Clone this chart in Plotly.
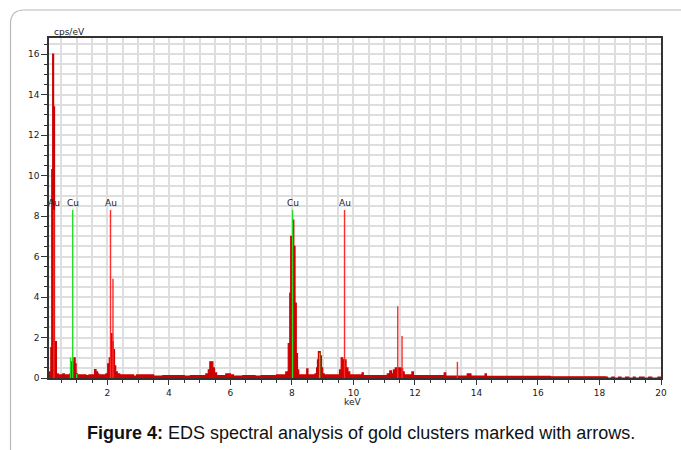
import plotly.graph_objects as go

# EDS spectrum: channel left edges (keV) and intensity (cps/eV), drawn as a step histogram
energy_kev = [0.10, 0.16, 0.19, 0.22, 0.25, 0.28, 0.34, 0.40, 0.55, 0.60, 0.78, 0.82, 0.84,
              0.87, 0.91, 0.95, 0.98, 1.02, 1.30, 1.40, 1.58, 1.63, 1.68, 1.72, 1.95, 2.01,
              2.06, 2.11, 2.15, 2.19, 2.23, 2.27, 2.32, 2.40, 2.85, 2.95, 3.50, 3.80, 4.50,
              4.70, 5.20, 5.28, 5.33, 5.43, 5.48, 5.55, 5.85, 6.00, 6.10, 6.40, 6.80, 7.00,
              7.50, 7.80, 7.88, 7.93, 7.96, 8.02, 8.06, 8.10, 8.14, 8.18, 8.22, 8.45, 8.48,
              8.52, 8.75, 8.80, 8.83, 8.86, 8.92, 8.96, 9.00, 9.05, 9.50, 9.55, 9.60, 9.65,
              9.70, 9.76, 9.82, 9.88, 10.28, 10.32, 11.10, 11.18, 11.24, 11.30, 11.36, 11.48,
              11.54, 11.60, 11.65, 11.90, 11.95, 12.95, 13.00, 13.70, 13.82, 14.28, 14.32,
              16.40, 18.20, 18.26, 18.40, 18.48, 18.62, 18.70, 18.85, 18.95, 19.10, 19.16,
              19.30, 19.45, 19.60, 19.70, 19.90, 20.00]
cps = [0.30, 1.50, 10.30, 16.00, 13.40, 1.80, 0.20, 0.15, 0.20, 0.15, 0.20, 0.50, 0.80,
       0.30, 1.00, 0.70, 0.20, 0.15, 0.12, 0.15, 0.42, 0.30, 0.20, 0.15, 0.20, 0.70,
       1.00, 2.20, 1.80, 1.40, 0.60, 0.30, 0.20, 0.15, 0.10, 0.15, 0.10, 0.12, 0.10,
       0.12, 0.20, 0.40, 0.80, 0.50, 0.25, 0.12, 0.20, 0.15, 0.10, 0.12, 0.10, 0.12,
       0.15, 0.30, 1.70, 4.20, 7.00, 7.80, 6.50, 3.70, 1.20, 0.40, 0.15, 0.15, 0.45,
       0.15, 0.20, 0.50, 0.90, 1.30, 1.10, 0.50, 0.20, 0.15, 0.15, 0.40, 1.00, 0.90,
       0.90, 0.50, 0.30, 0.15, 0.26, 0.12, 0.20, 0.35, 0.20, 0.40, 0.50, 0.50,
       0.45, 0.30, 0.15, 0.30, 0.12, 0.25, 0.10, 0.20, 0.10, 0.20, 0.08,
       0.06, 0.05, 0.00, 0.05, 0.00, 0.05, 0.00, 0.05, 0.00, 0.05, 0.00,
       0.05, 0.00, 0.05, 0.00, 0.05, 0.05]

# Element line markers (position keV, relative height cps/eV)
au_lines_kev = [0.26, 2.10, 2.18, 9.71, 11.44, 11.58, 13.38]
au_lines_h = [8.3, 8.3, 4.9, 8.3, 3.55, 2.08, 0.8]
cu_lines_kev = [0.80, 0.87, 1.00, 8.02, 8.90]
cu_lines_h = [1.0, 8.3, 0.2, 8.3, 1.25]

# Element labels
label_text = ["Au", "Cu", "Au", "Cu", "Au"]
label_kev = [0.26, 0.89, 2.10, 8.02, 9.71]
label_y = 8.65

x_ticks = [2, 4, 6, 8, 10, 12, 14, 16, 18, 20]
y_ticks = [0, 2, 4, 6, 8, 10, 12, 14, 16]

caption_bold = "Figure 4:"
caption_rest = " EDS spectral analysis of gold clusters marked with arrows."


def stems(xs, hs):
    sx, sy = [], []
    for x, h in zip(xs, hs):
        sx += [x, x, None]
        sy += [0, h, None]
    return sx, sy


fig = go.Figure()

fig.add_trace(go.Scatter(
    x=energy_kev, y=cps, mode="lines", line=dict(shape="hv", color="#cc0000", width=1.2),
    fill="tozeroy", fillcolor="#cc0000", hoverinfo="skip", showlegend=False))

ax, ay = stems(au_lines_kev, au_lines_h)
fig.add_trace(go.Scatter(x=ax, y=ay, mode="lines", line=dict(color="#ff2b2b", width=1.4),
                         showlegend=False, hoverinfo="skip"))
cx, cy = stems(cu_lines_kev, cu_lines_h)
fig.add_trace(go.Scatter(x=cx, y=cy, mode="lines", line=dict(color="#22dd22", width=1.4),
                         showlegend=False, hoverinfo="skip"))

for t, k in zip(label_text, label_kev):
    fig.add_annotation(x=k, y=label_y, text=t, showarrow=False, xanchor="center",
                       yanchor="middle", font=dict(family="DejaVu Sans", size=9, color="#222"))

# Plot area: x 49..661 px, y 38..378 px
L, R, T, B = 49, 661, 38, 378
W, H = R - L, B - T


def px(x):
    return (x - L) / W


def py(y):
    return (B - y) / H


tick_font = dict(family="DejaVu Sans", size=9, color="#1a1a1a")
grid_c = "#dedede"

fig.update_xaxes(
    range=[0.1, 20], tickvals=x_ticks, ticktext=[str(v) for v in x_ticks],
    showline=True, linecolor="#333", linewidth=1.5, mirror=True,
    ticks="outside", ticklen=5, tickcolor="#333", tickwidth=1,
    showgrid=True, gridcolor=grid_c, gridwidth=1.6, zeroline=False,
    minor=dict(dtick=0.5, tick0=0, ticks="outside", ticklen=3, tickcolor="#333",
               showgrid=True, gridcolor=grid_c, gridwidth=1.6),
    tickfont=tick_font)
fig.update_yaxes(
    range=[0, 16.8], tickvals=y_ticks, ticktext=[str(v) for v in y_ticks],
    showline=True, linecolor="#333", linewidth=1.5, mirror=True,
    ticks="outside", ticklen=6, tickcolor="#333", tickwidth=1,
    showgrid=True, gridcolor=grid_c, gridwidth=1.6, zeroline=False,
    minor=dict(dtick=0.5, tick0=0, ticks="outside", ticklen=3, tickcolor="#333",
               showgrid=True, gridcolor=grid_c, gridwidth=1.6),
    tickfont=tick_font)

fig.add_annotation(xref="paper", yref="paper", x=px(52), y=py(32), text="cps/eV",
                   showarrow=False, xanchor="left", yanchor="middle", font=tick_font)
fig.add_annotation(xref="paper", yref="paper", x=px(352), y=py(402), text="keV",
                   showarrow=False, xanchor="center", yanchor="middle", font=tick_font)
fig.add_annotation(xref="paper", yref="paper", x=px(360.5), y=py(433),
                   text="<b>" + caption_bold + "</b>" + caption_rest,
                   showarrow=False, xanchor="center", yanchor="middle",
                   font=dict(family="Liberation Sans", size=18, color="#111"))

# Rounded panel border framing the figure
fig.add_shape(type="path", xref="paper", yref="paper",
              path=f"M {px(10.5)} {py(452)} L {px(10.5)} {py(24)} "
                   f"Q {px(10.5)} {py(10)} {px(24)} {py(10)} L {px(683)} {py(10)}",
              line=dict(color="#b8b8b8", width=1.2))

fig.update_layout(
    width=681, height=450,
    margin=dict(l=L, r=681 - R, t=T, b=450 - B),
    paper_bgcolor="white", plot_bgcolor="white",
    showlegend=False)

fig.write_html("out.html")
